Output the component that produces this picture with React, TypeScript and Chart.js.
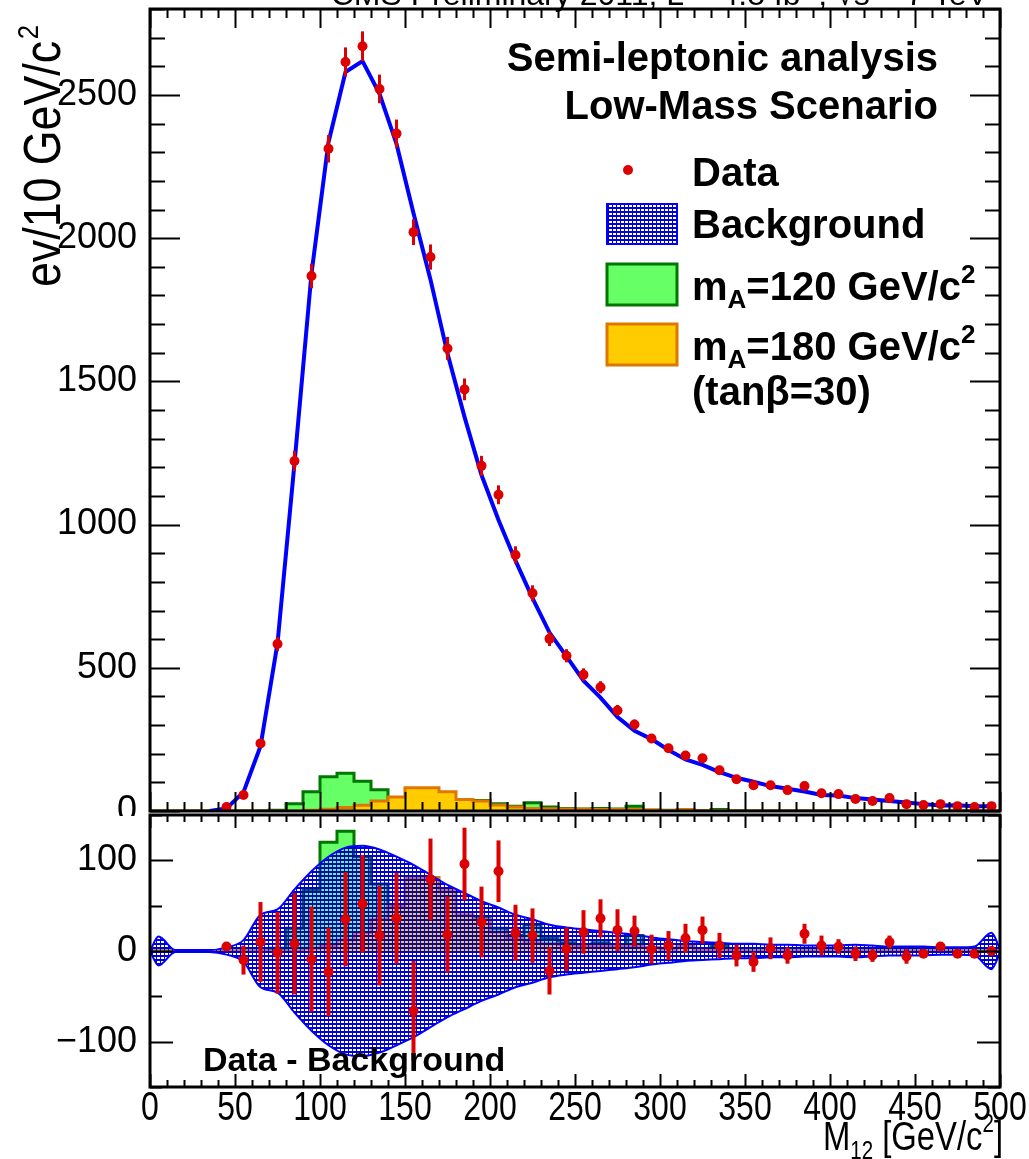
import React, { useEffect, useRef } from 'react';
import { Chart, registerables } from 'chart.js';

Chart.register(...registerables);

// ---------------- data ----------------
const massBins = [5, 15, 25, 35, 45, 55, 65, 75, 85, 95, 105, 115, 125, 135, 145, 155, 165, 175, 185, 195,
  205, 215, 225, 235, 245, 255, 265, 275, 285, 295, 305, 315, 325, 335, 345, 355, 365, 375, 385, 395,
  405, 415, 425, 435, 445, 455, 465, 475, 485, 495];

const dataCounts = [null, null, null, null, 14, 56, 236, 583, 1222, 1868, 2312, 2615, 2670, 2521, 2365, 2021, 1934, 1615, 1472, 1205,
  1104, 894, 760, 601, 542, 476, 432, 351, 302, 253, 219, 194, 184, 142, 111, 90, 90, 73, 87, 62,
  59, 42, 35, 45, 24, 21, 24, 17, 14, 17];

const dataErrors = [null, null, null, null, 4, 8, 15, 24, 35, 43, 48, 51, 52, 50, 49, 45, 44, 40, 38, 35,
  33, 30, 28, 25, 23, 22, 21, 19, 17, 16, 15, 14, 14, 12, 11, 9, 9, 9, 9, 8,
  8, 6, 6, 7, 5, 5, 5, 4, 4, 4];

const backgroundFit = [null, null, null, 0, 9, 66, 226, 585, 1214, 1877, 2335, 2580, 2618, 2504, 2329, 2087, 1855, 1597, 1376, 1173,
  1016, 874, 743, 623, 540, 455, 396, 328, 280, 251, 213, 180, 161, 136, 116, 102, 87, 78, 68, 56,
  54, 45, 40, 35, 30, 24, 19, 20, 17, 17];

const signalMA120 = [0, 0, 0, 0, 0, 0, 0, 3, 25, 67, 120, 132, 104, 74, 47, 42, 38, 33, 30, 37,
  25, 17, 29, 14, 9, 7, 9, 7, 17, 2, 3, 3, 1, 5, 0, 0, 0, 0, 0, 0,
  0, 0, 0, 0, 0, 0, 0, 0, 0, 0];

const signalMA180 = [0, 0, 0, 0, 0, 0, 0, 0, 0, 3, 6, 12, 20, 35, 49, 81, 81, 67, 40, 35,
  21, 14, 9, 8, 7, 6, 5, 5, 5, 4, 2, 5, 1, 1, 1, 0, 0, 0, 0, 0,
  0, 0, 0, 0, 0, 0, 0, 0, 0, 0];

const diffValues = [null, null, null, null, 5, -10, 10, -2, 8, -9, -23, 35, 52, 17, 36, -66, 79, 18, 96, 32,
  88, 20, 17, -22, 2, 21, 36, 23, 22, 2, 6, 14, 23, 6, -5, -12, 3, -5, 19, 6,
  5, -3, -5, 10, -6, -3, 5, -3, -3, 0];

const diffErrors = [null, null, null, null, 3, 16, 44, 45, 56, 58, 49, 52, 54, 55, 50, 55, 45, 42, 40, 39,
  34, 31, 30, 26, 24, 24, 21, 23, 17, 16, 16, 16, 15, 14, 12, 11, 12, 9, 11, 11,
  8, 8, 7, 7, 8, 3, 3, 3, 3, 3];

const bandX = [0, 5, 15, 25, 35, 45, 55, 65, 75, 85, 95, 105, 115, 125, 135, 145, 155, 165, 175, 185, 195,
  205, 215, 225, 235, 245, 255, 265, 275, 285, 295, 305, 315, 325, 335, 345, 355, 365, 375, 385, 395,
  405, 415, 425, 435, 445, 455, 465, 475, 485, 495, 500];

const bandHalfWidth = [0, 16, 1, 1, 1, 4, 12, 40, 46, 68, 88, 104, 114, 116, 112, 104, 95, 84, 73, 64, 55,
  48, 40, 35, 29, 26, 24, 22, 20, 18, 15, 13, 11, 10, 9, 8, 8, 7, 7, 6, 6,
  6, 7, 6, 5, 5, 5, 4, 4, 5, 20, 2];

const xTickValues = [0, 50, 100, 150, 200, 250, 300, 350, 400, 450, 500];
const upperYTickValues = [0, 500, 1000, 1500, 2000, 2500];
const lowerYTickValues = [-100, 0, 100];
const BIN_WIDTH = 10;

// ---------------- styles ----------------
const FONT = "'Liberation Sans', Arial, Helvetica, sans-serif";
const NARROW_SCALE = 0.8;
const RED = '#dd0000';
const BLUE = '#0000ff';
const GREEN_FILL = '#66ff66';
const GREEN_LINE = '#007700';
const ORANGE_FILL = '#ffcc00';
const ORANGE_LINE = '#dd7700';

function makeHatch(): any {
  const c = document.createElement('canvas');
  c.width = 4;
  c.height = 4;
  const g = c.getContext('2d')!;
  g.fillStyle = '#0000dd';
  g.fillRect(0, 0, 4, 4);
  g.clearRect(1, 1, 3, 2);
  return g.createPattern(c, 'repeat');
}

function points(values: (number | null)[]) {
  const out: any[] = [];
  values.forEach((v, i) => {
    if (v !== null) out.push({ x: massBins[i], y: v });
  });
  return out;
}

function errorsFor(values: (number | null)[], errs: (number | null)[]) {
  const out: number[] = [];
  values.forEach((v, i) => {
    if (v !== null) out.push(errs[i] as number);
  });
  return out;
}

function histPoints(values: number[]) {
  const out = values.map((v, i) => ({ x: massBins[i] - BIN_WIDTH / 2, y: v }));
  out.push({ x: massBins[massBins.length - 1] + BIN_WIDTH / 2, y: values[values.length - 1] });
  return out;
}

type Part = { t: string; size: number; dy?: number; bold?: boolean };

function richText(ctx: CanvasRenderingContext2D, parts: Part[], x: number, y: number,
  align: 'left' | 'right' | 'center' = 'left', sx = 1) {
  const fontOf = (p: Part) => `${p.bold ? 'bold ' : ''}${p.size}px ${FONT}`;
  let w = 0;
  for (const p of parts) {
    ctx.font = fontOf(p);
    w += ctx.measureText(p.t).width;
  }
  const total = w * sx;
  const x0 = align === 'right' ? x - total : align === 'center' ? x - total / 2 : x;
  ctx.save();
  ctx.translate(x0, y);
  ctx.scale(sx, 1);
  ctx.textAlign = 'left';
  ctx.textBaseline = 'alphabetic';
  let cx = 0;
  for (const p of parts) {
    ctx.font = fontOf(p);
    ctx.fillText(p.t, cx, p.dy || 0);
    cx += ctx.measureText(p.t).width;
  }
  ctx.restore();
}

const errorBarPlugin = {
  id: 'errorBars',
  afterDatasetsDraw(chart: any) {
    const { ctx } = chart;
    const y = chart.scales.y;
    const area = chart.chartArea;
    chart.data.datasets.forEach((ds: any, i: number) => {
      if (!ds.errorBars) return;
      const meta = chart.getDatasetMeta(i);
      ctx.save();
      ctx.beginPath();
      ctx.rect(area.left, area.top, area.right - area.left, area.bottom - area.top);
      ctx.clip();
      ctx.strokeStyle = ds.pointBackgroundColor;
      ctx.lineWidth = ds.errorWidth || 3;
      meta.data.forEach((el: any, j: number) => {
        const v = ds.data[j].y;
        const e = ds.errorBars[j];
        if (!e) return;
        ctx.beginPath();
        ctx.moveTo(el.x, y.getPixelForValue(v - e));
        ctx.lineTo(el.x, y.getPixelForValue(v + e));
        ctx.stroke();
      });
      ctx.restore();
    });
  },
};

function drawFrame(chart: any, cfg: any) {
  const { ctx, chartArea: a } = chart;
  const xs = chart.scales.x;
  const ys = chart.scales.y;
  ctx.save();
  ctx.strokeStyle = '#000';
  ctx.lineWidth = 2;
  ctx.beginPath();
  for (let v = xs.min; v <= xs.max + 1e-9; v += cfg.xMinor) {
    const major = Math.abs(v / cfg.xMajor - Math.round(v / cfg.xMajor)) < 1e-6;
    const len = major ? cfg.xMajorLen : cfg.xMinorLen;
    const px = Math.round(xs.getPixelForValue(v)) + 0.5;
    ctx.moveTo(px, a.bottom);
    ctx.lineTo(px, a.bottom - len);
    ctx.moveTo(px, a.top);
    ctx.lineTo(px, a.top + len);
  }
  for (let v = ys.min; v <= ys.max + 1e-9; v += cfg.yMinor) {
    const major = Math.abs(v / cfg.yMajor - Math.round(v / cfg.yMajor)) < 1e-6;
    const len = major ? cfg.yMajorLen : cfg.yMinorLen;
    const py = Math.round(ys.getPixelForValue(v)) + 0.5;
    ctx.moveTo(a.left, py);
    ctx.lineTo(a.left + len, py);
    ctx.moveTo(a.right, py);
    ctx.lineTo(a.right - len, py);
  }
  ctx.stroke();
  ctx.lineWidth = 3;
  ctx.strokeRect(a.left, a.top, a.right - a.left, a.bottom - a.top);
  ctx.restore();
}

const upperDecorPlugin = {
  id: 'upperDecor',
  afterDraw(chart: any) {
    const ctx: CanvasRenderingContext2D = chart.ctx;
    drawFrame(chart, { xMajor: 50, xMinor: 10, xMajorLen: 19, xMinorLen: 9, yMajor: 500, yMinor: 100, yMajorLen: 30, yMinorLen: 15 });
    ctx.save();
    ctx.fillStyle = '#000';
    // cropped title at the very top
    richText(ctx, [
      { t: 'CMS Preliminary 2011, L = 4.8 fb', size: 32 },
      { t: '-1', size: 20, dy: -14 },
      { t: ', \u221As = 7 TeV', size: 32 },
    ], 988, 5, 'right');
    // y axis title (narrow, rotated)
    ctx.save();
    ctx.translate(60, 287);
    ctx.rotate(-Math.PI / 2);
    ctx.scale(0.86, 1);
    ctx.font = `52px ${FONT}`;
    ctx.textAlign = 'left';
    ctx.textBaseline = 'alphabetic';
    ctx.fillText('ev/10 GeV/c', 0, 0);
    const w = ctx.measureText('ev/10 GeV/c').width;
    ctx.font = `30px ${FONT}`;
    ctx.fillText('2', w + 2, -22);
    ctx.restore();
    // header text
    richText(ctx, [{ t: 'Semi-leptonic analysis', size: 40, bold: true }], 938, 71, 'right');
    richText(ctx, [{ t: 'Low-Mass Scenario', size: 40, bold: true }], 938, 119, 'right');
    // legend
    ctx.fillStyle = RED;
    ctx.beginPath();
    ctx.arc(628, 170, 5, 0, Math.PI * 2);
    ctx.fill();
    ctx.fillStyle = '#000';
    richText(ctx, [{ t: 'Data', size: 40, bold: true }], 692, 186);

    ctx.fillStyle = chart.options.hatch;
    ctx.fillRect(607, 204, 70, 40);
    ctx.strokeStyle = BLUE;
    ctx.lineWidth = 2;
    ctx.strokeRect(607, 204, 70, 40);
    ctx.fillStyle = '#000';
    richText(ctx, [{ t: 'Background', size: 40, bold: true }], 692, 238);

    ctx.fillStyle = GREEN_FILL;
    ctx.fillRect(607, 264, 70, 41);
    ctx.strokeStyle = GREEN_LINE;
    ctx.lineWidth = 3;
    ctx.strokeRect(607, 264, 70, 41);
    ctx.fillStyle = '#000';
    richText(ctx, [
      { t: 'm', size: 40, bold: true },
      { t: 'A', size: 26, bold: true, dy: 8 },
      { t: '=120 GeV/c', size: 40, bold: true },
      { t: '2', size: 26, bold: true, dy: -17 },
    ], 692, 300);

    ctx.fillStyle = ORANGE_FILL;
    ctx.fillRect(607, 324, 70, 41);
    ctx.strokeStyle = ORANGE_LINE;
    ctx.lineWidth = 3;
    ctx.strokeRect(607, 324, 70, 41);
    ctx.fillStyle = '#000';
    richText(ctx, [
      { t: 'm', size: 40, bold: true },
      { t: 'A', size: 26, bold: true, dy: 8 },
      { t: '=180 GeV/c', size: 40, bold: true },
      { t: '2', size: 26, bold: true, dy: -17 },
    ], 692, 360);
    richText(ctx, [{ t: '(tan\u03B2=30)', size: 40, bold: true }], 692, 405);
    ctx.restore();
  },
};

const lowerDecorPlugin = {
  id: 'lowerDecor',
  afterDraw(chart: any) {
    const ctx: CanvasRenderingContext2D = chart.ctx;
    drawFrame(chart, { xMajor: 50, xMinor: 10, xMajorLen: 13, xMinorLen: 7, yMajor: 100, yMinor: 50, yMajorLen: 23, yMinorLen: 12 });
    ctx.save();
    ctx.fillStyle = '#000';
    // x tick labels (narrow Helvetica look), positioned by the x scale
    const xs = chart.scales.x;
    for (const v of xTickValues) {
      richText(ctx, [{ t: String(v), size: 40 }], xs.getPixelForValue(v), 320, 'center', NARROW_SCALE);
    }
    richText(ctx, [{ t: 'Data - Background', size: 34, bold: true }], 203, 271);
    richText(ctx, [
      { t: 'M', size: 40 },
      { t: '12', size: 25, dy: 9 },
      { t: ' [GeV/c', size: 40 },
      { t: '2', size: 25, dy: -18 },
      { t: ']', size: 40 },
    ], 1003, 350, 'right', 0.82);
    ctx.restore();
  },
};

function yAxis(min: number, max: number, ticks: number[]) {
  return {
    type: 'linear',
    min,
    max,
    grid: { display: false, drawTicks: false },
    border: { display: false },
    ticks: {
      font: { family: FONT, size: 36 },
      color: '#000',
      padding: 13,
      callback: (v: number) => (v < 0 ? '\u2212' + Math.abs(v) : String(v)),
    },
    afterBuildTicks: (s: any) => {
      s.ticks = ticks.map((v) => ({ value: v }));
    },
    afterFit: (s: any) => {
      s.width = 150;
      s.paddingTop = 0;
      s.paddingBottom = 0;
    },
  };
}

export default function App() {
  const upperRef = useRef<HTMLCanvasElement>(null);
  const lowerRef = useRef<HTMLCanvasElement>(null);

  useEffect(() => {
    const hatch = makeHatch();

    const upper = new Chart(upperRef.current!, {
      type: 'line',
      data: {
        datasets: [
          {
            label: 'Data',
            data: points(dataCounts),
            errorBars: errorsFor(dataCounts, dataErrors),
            errorWidth: 3,
            showLine: false,
            pointRadius: 5,
            pointBackgroundColor: RED,
            pointBorderWidth: 0,
            borderColor: RED,
          } as any,
          {
            label: 'Background',
            data: points(backgroundFit),
            borderColor: BLUE,
            borderWidth: 4,
            pointRadius: 0,
            tension: 0,
            fill: false,
          },
          {
            label: 'mA=180',
            data: histPoints(signalMA180),
            stepped: true,
            borderColor: ORANGE_LINE,
            borderWidth: 3,
            backgroundColor: ORANGE_FILL,
            fill: 'origin',
            pointRadius: 0,
          },
          {
            label: 'mA=120',
            data: histPoints(signalMA120),
            stepped: true,
            borderColor: GREEN_LINE,
            borderWidth: 3,
            backgroundColor: GREEN_FILL,
            fill: 'origin',
            pointRadius: 0,
          },
        ],
      },
      options: {
        animation: false,
        responsive: false,
        events: [],
        hatch,
        layout: { padding: { top: 9, right: 29, bottom: 1, left: 0 } },
        plugins: { legend: { display: false }, tooltip: { enabled: false } },
        scales: {
          x: { type: 'linear', min: 0, max: 500, display: false },
          y: yAxis(0, 2800, upperYTickValues),
        },
      } as any,
      plugins: [errorBarPlugin, upperDecorPlugin],
    });

    const lower = new Chart(lowerRef.current!, {
      type: 'line',
      data: {
        datasets: [
          {
            label: 'Data - Background',
            data: points(diffValues),
            errorBars: errorsFor(diffValues, diffErrors),
            errorWidth: 4,
            showLine: false,
            pointRadius: 5,
            pointBackgroundColor: RED,
            pointBorderWidth: 0,
            borderColor: RED,
          } as any,
          {
            label: 'band+',
            data: bandX.map((x, i) => ({ x, y: bandHalfWidth[i] })),
            borderColor: BLUE,
            borderWidth: 2,
            backgroundColor: hatch,
            fill: '+1',
            pointRadius: 0,
            tension: 0.4,
            cubicInterpolationMode: 'monotone',
          },
          {
            label: 'band-',
            data: bandX.map((x, i) => ({ x, y: -bandHalfWidth[i] })),
            borderColor: BLUE,
            borderWidth: 2,
            fill: false,
            pointRadius: 0,
            tension: 0.4,
            cubicInterpolationMode: 'monotone',
          },
          {
            label: 'mA=180',
            data: histPoints(signalMA180),
            stepped: true,
            borderColor: ORANGE_LINE,
            borderWidth: 3,
            backgroundColor: ORANGE_FILL,
            fill: 'origin',
            pointRadius: 0,
          },
          {
            label: 'mA=120',
            data: histPoints(signalMA120),
            stepped: true,
            borderColor: GREEN_LINE,
            borderWidth: 3,
            backgroundColor: GREEN_FILL,
            fill: 'origin',
            pointRadius: 0,
          },
        ],
      },
      options: {
        animation: false,
        responsive: false,
        events: [],
        layout: { padding: { top: 15, right: 29, bottom: 0, left: 0 } },
        plugins: { legend: { display: false }, tooltip: { enabled: false } },
        scales: {
          x: {
            type: 'linear',
            min: 0,
            max: 500,
            grid: { display: false, drawTicks: false },
            border: { display: false },
            ticks: { display: false },
            afterBuildTicks: (s: any) => {
              s.ticks = xTickValues.map((v) => ({ value: v }));
            },
            afterFit: (s: any) => {
              s.height = 72;
              s.paddingLeft = 0;
              s.paddingRight = 0;
            },
          },
          y: yAxis(-150, 150, lowerYTickValues),
        },
      } as any,
      plugins: [errorBarPlugin, lowerDecorPlugin],
    });

    return () => {
      upper.destroy();
      lower.destroy();
    };
  }, []);

  return (
    <div style={{ position: 'absolute', left: 0, top: 0, width: 1029, height: 1159, background: '#fff', overflow: 'hidden' }}>
      <canvas ref={upperRef} width={1029} height={816} style={{ position: 'absolute', left: 0, top: 0, width: 1029, height: 816 }} />
      <canvas ref={lowerRef} width={1029} height={359} style={{ position: 'absolute', left: 0, top: 800, width: 1029, height: 359 }} />
    </div>
  );
}
